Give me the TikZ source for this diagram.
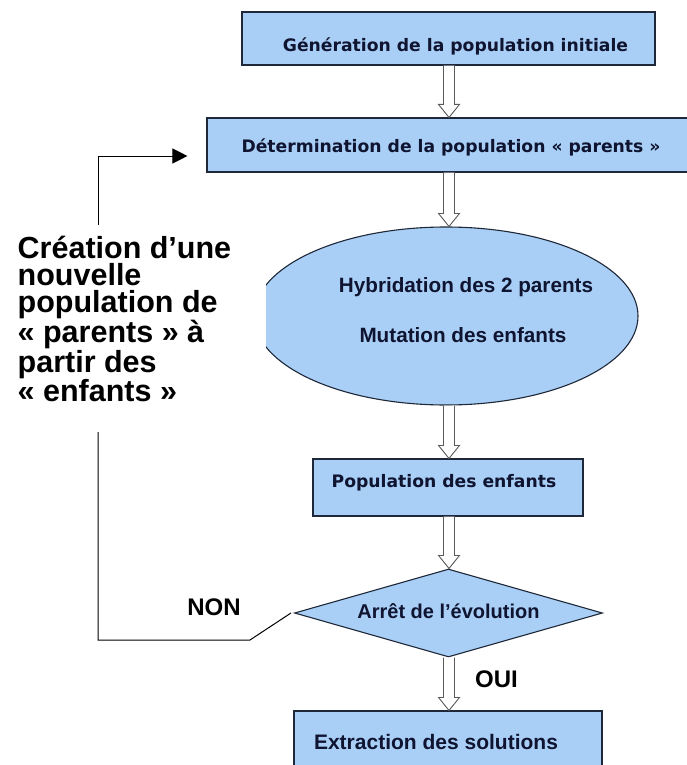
\documentclass[tikz,border=0pt]{standalone}
\usepackage{fontspec}
\setmainfont{Liberation Sans}
\newfontfamily\widefont{DejaVu Sans}
\usetikzlibrary{shapes.geometric,arrows.meta,calc}

\definecolor{boxfill}{HTML}{A9CFF6}
\definecolor{boxline}{HTML}{1E2838}
\definecolor{boxtext}{HTML}{0F1430}
\definecolor{arrowline}{HTML}{5A5A5A}

\tikzset{
  flowbox/.style={rectangle, draw=boxline, fill=boxfill, line width=1.1pt,
    inner sep=0pt, text=boxtext},
  widetext/.style={font=\widefont\bfseries\fontsize{17.2}{20}\selectfont},
  narrowtext/.style={font=\bfseries\fontsize{#1}{#1}\selectfont},
  % hollow block arrow between two shapes (double shaft, open head)
  blockarrow/.style={draw=arrowline, fill=white, line width=0.9pt, line join=miter,
    to path={let \p1=(\tikztostart), \p2=(\tikztotarget) in
      (\x1-5.5pt,\y1) -- (\x1-5.5pt,\y2+13pt) -- (\x1-10.5pt,\y2+13pt) -- (\x1,\y2)
      -- (\x1+10.5pt,\y2+13pt) -- (\x1+5.5pt,\y2+13pt) -- (\x1+5.5pt,\y1)}},
  loopline/.style={draw=black, line width=1pt},
  notetext/.style={font=\bfseries\fontsize{30.5}{27}\selectfont, align=left,
    inner sep=0pt, text=black},
  answer/.style={font=\bfseries\fontsize{24}{24}\selectfont, inner sep=0pt, text=black}
}

\begin{document}
\begin{tikzpicture}[x=1pt, y=-1pt]
  \path[use as bounding box, fill=white] (0,0) rectangle (687,765);

  \coordinate (axis) at (449,0);

  % process boxes
  \node[flowbox, widetext, minimum width=413pt, minimum height=53pt,
        text height=37pt, text depth=10pt] (init) at (448.5,38.5)
        {\hspace*{14pt}Génération de la population initiale};

  \node[flowbox, widetext, minimum width=488pt, minimum height=54pt,
        text height=24pt, text depth=10pt] (sel) at (451,145)
        {Détermination de la population « parents »};

  % crossover / mutation stage, its left end hidden behind the note
  \begin{scope}
    \clip (266,200) rectangle (700,420);
    \node[ellipse, draw=boxline, fill=boxfill, line width=1.1pt, inner sep=0pt,
          minimum width=384pt, minimum height=178pt, text=boxtext,
          narrowtext=20.7, align=center] (hyb) at (446,316)
          {\makebox[0pt]{\hspace{40pt}Hybridation des 2 parents}\\[30pt]
           \makebox[0pt]{\hspace{34pt}Mutation des enfants}\rule[-12pt]{0pt}{12pt}};
  \end{scope}

  \node[flowbox, widetext, minimum width=270pt, minimum height=57pt,
        text height=10pt, text depth=10pt] (kids) at (448,487.5)
        {Population des enfants\hspace*{8pt}};

  \node[diamond, aspect=3.5, draw=boxline, fill=boxfill, line width=1.1pt,
        inner sep=0pt, minimum width=308pt, minimum height=88pt, text=boxtext,
        narrowtext=20, text height=20pt, text depth=10pt] (stop) at (448.5,613)
        {Arrêt de l’évolution};

  \node[flowbox, narrowtext=21, minimum width=308pt, minimum height=64pt,
        text height=22pt, text depth=10pt] (extract) at (448,743)
        {Extraction des solutions\hspace*{24pt}};

  % main flow
  \draw[blockarrow] (init.south -| axis) to (sel.north -| axis);
  \draw[blockarrow] (sel.south -| axis) to (hyb.north -| axis);
  \draw[blockarrow] (hyb.south -| axis) to (kids.north -| axis);
  \draw[blockarrow] (kids.south -| axis) to (stop.north -| axis);
  \draw[blockarrow] (stop.south -| axis) to (extract.north -| axis);

  % labels of the decision
  \node[answer, anchor=base] (non) at (214,615) {NON};
  \node[answer, anchor=base] (oui) at (496.5,687) {OUI};

  % note on the loop
  \node[notetext, anchor=south west] (loopnote) at (17.5,402)
    {Création d’une\\nouvelle\\population de\\« parents » à\\partir des\\« enfants »};

  % loop back to the parent selection
  \coordinate (fblow) at (98,432);
  \coordinate (fbhigh) at (98,225);
  \draw[loopline] ([xshift=-3pt]stop.west) -- (250,640) -- (98,640) -- (fblow);
  \draw[loopline, -{Triangle[length=15pt,width=15pt]}]
    (fbhigh) |- ([xshift=-19pt,yshift=-11pt]sel.west);
\end{tikzpicture}
\end{document}
